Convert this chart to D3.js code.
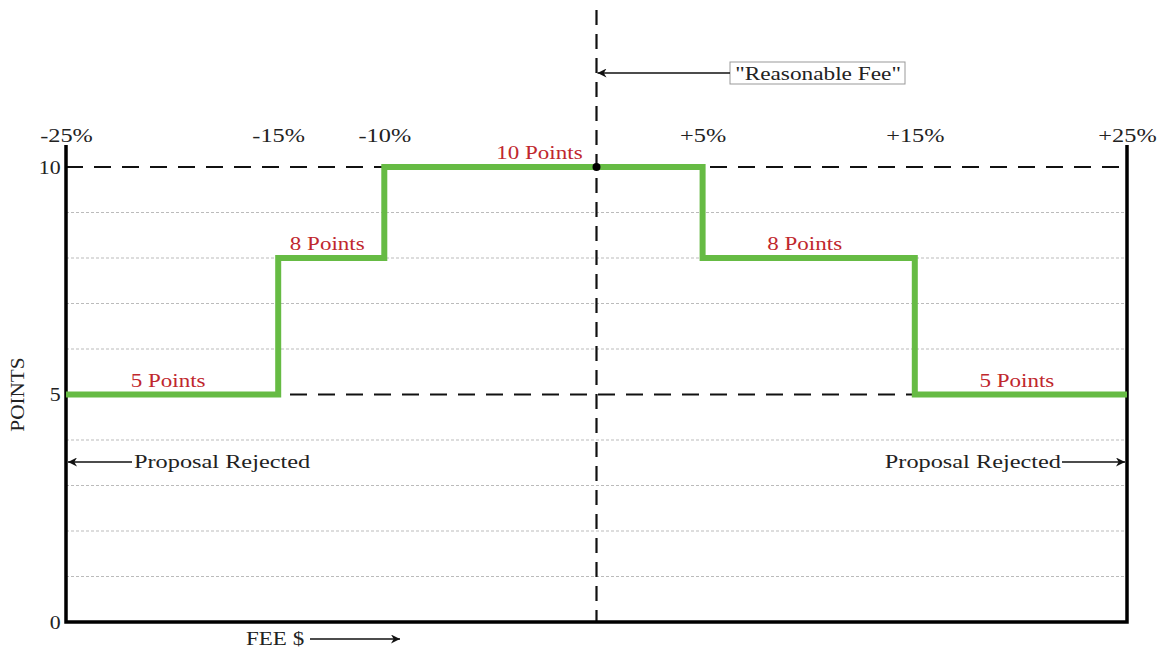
<!DOCTYPE html>
<html>
<head>
<meta charset="utf-8">
<script src="https://cdn.jsdelivr.net/npm/d3@7"></script>
<style>
  body { margin: 0; background: #fff; }
  text { font-family: "Liberation Serif", "DejaVu Serif", serif; }
</style>
</head>
<body>
<div id="vis"></div>
<script>
const FRAME_WIDTH = 1158;
const FRAME_HEIGHT = 649;
const MARGINS = {left: 66, right: 31, top: 167, bottom: 27};
const STRETCH = 1.28; // source text looks horizontally stretched

// fee steps (% from reasonable fee) and points awarded in each step
const FEE_BREAKS = [-25, -15, -10, 5, 15, 25];
const POINTS = [5, 8, 10, 8, 5];
const SEGMENT_LABELS = ["5 Points", "8 Points", "10 Points", "8 Points", "5 Points"];
const TOP_TICKS = [-25, -15, -10, 5, 15, 25];
const TOP_TICK_LABELS = ["-25%", "-15%", "-10%", "+5%", "+15%", "+25%"];
const Y_TICKS = [0, 5, 10];
const GRID_MINOR = [1, 2, 3, 4, 6, 7, 8, 9];
const GRID_MAJOR = [5, 10];

const X_SCALE = d3.scaleLinear().domain([-25, 25]).range([MARGINS.left, FRAME_WIDTH - MARGINS.right]);
const Y_SCALE = d3.scaleLinear().domain([0, 10]).range([FRAME_HEIGHT - MARGINS.bottom, MARGINS.top]);

const FRAME = d3.select('#vis')
  .append('svg')
    .attr('width', FRAME_WIDTH)
    .attr('height', FRAME_HEIGHT);

const defs = FRAME.append('defs');
defs.append('marker')
    .attr('id', 'arrow')
    .attr('viewBox', '0 0 10 10')
    .attr('refX', 10).attr('refY', 5)
    .attr('markerWidth', 13).attr('markerHeight', 9)
    .attr('markerUnits', 'userSpaceOnUse')
    .attr('orient', 'auto')
  .append('path')
    .attr('d', 'M0,0 L10,5 L0,10 L3,5 Z')
    .attr('fill', '#111');

// stretched text helper
function label(x, y, str, anchor, color, size) {
  return FRAME.append('text')
    .attr('transform', `translate(${x},${y}) scale(${STRETCH},1)`)
    .attr('text-anchor', anchor || 'start')
    .attr('font-size', (size || 19) + 'px')
    .attr('fill', color || '#222')
    .text(str);
}

const x0 = X_SCALE(-25), x1 = X_SCALE(25);

// minor grid
FRAME.selectAll('.minor')
  .data(GRID_MINOR)
  .enter()
  .append('line')
    .attr('x1', x0).attr('x2', x1)
    .attr('y1', d => Y_SCALE(d)).attr('y2', d => Y_SCALE(d))
    .attr('stroke', '#bbb')
    .attr('stroke-width', 1)
    .attr('stroke-dasharray', '3,2');

// major dashed lines at 5 and 10
FRAME.selectAll('.major')
  .data(GRID_MAJOR)
  .enter()
  .append('line')
    .attr('x1', x0).attr('x2', x1)
    .attr('y1', d => Y_SCALE(d)).attr('y2', d => Y_SCALE(d))
    .attr('stroke', '#111')
    .attr('stroke-width', 2.2)
    .attr('stroke-dasharray', '17,11');

// vertical "reasonable fee" line
FRAME.append('line')
    .attr('x1', X_SCALE(0)).attr('x2', X_SCALE(0))
    .attr('y1', 10).attr('y2', Y_SCALE(0))
    .attr('stroke', '#111')
    .attr('stroke-width', 2.2)
    .attr('stroke-dasharray', '15,9');

// frame: left, right, bottom
FRAME.append('path')
    .attr('d', `M${x0},145 L${x0},${Y_SCALE(0)} L${x1},${Y_SCALE(0)} L${x1},145`)
    .attr('fill', 'none')
    .attr('stroke', '#000')
    .attr('stroke-width', 3.5);

// step line
const stepData = POINTS.map((p, i) => ({x: FEE_BREAKS[i], y: p}));
stepData.push({x: FEE_BREAKS[FEE_BREAKS.length - 1], y: POINTS[POINTS.length - 1]});
FRAME.append('path')
    .datum(stepData)
    .attr('d', d3.line().x(d => X_SCALE(d.x)).y(d => Y_SCALE(d.y)).curve(d3.curveStepAfter))
    .attr('fill', 'none')
    .attr('stroke', '#66bb44')
    .attr('stroke-width', 6);

// segment labels
POINTS.forEach((p, i) => {
  label(X_SCALE((FEE_BREAKS[i] + FEE_BREAKS[i + 1]) / 2) - 4, Y_SCALE(p) - 8,
        SEGMENT_LABELS[i], 'middle', '#c0272d', 18);
});

// dot at reasonable fee
FRAME.append('circle')
    .attr('cx', X_SCALE(0)).attr('cy', Y_SCALE(10))
    .attr('r', 4)
    .attr('fill', '#000');

// top percent axis
FRAME.append('g')
    .attr('transform', 'translate(0,' + 142 + ')')
    .call(d3.axisTop(X_SCALE).tickValues(TOP_TICKS).tickSize(0).tickPadding(0)
      .tickFormat((d, i) => TOP_TICK_LABELS[i]))
    .call(g => g.select('.domain').remove())
    .selectAll('text')
      .attr('font-family', '"Liberation Serif", serif')
      .attr('font-size', '19px')
      .attr('fill', '#222')
      .attr('dy', '0')
      .attr('transform', `scale(${STRETCH},1)`);

// y axis ticks
FRAME.append('g')
    .attr('transform', 'translate(' + (x0 - 2) + ',0)')
    .call(d3.axisLeft(Y_SCALE).tickValues(Y_TICKS).tickSize(0).tickPadding(3))
    .call(g => g.select('.domain').remove())
    .selectAll('text')
      .attr('font-family', '"Liberation Serif", serif')
      .attr('font-size', '19px')
      .attr('fill', '#222')
      .attr('transform', 'scale(1.15,1)');

// y axis title
FRAME.append('text')
    .attr('transform', `translate(24,${Y_SCALE(5)}) rotate(-90) scale(1.18,1)`)
    .attr('text-anchor', 'middle')
    .attr('font-size', '18px')
    .attr('fill', '#222')
    .text('POINTS');

// reasonable fee annotation
FRAME.append('rect')
    .attr('x', 730).attr('y', 62)
    .attr('width', 175).attr('height', 22)
    .attr('fill', '#fff')
    .attr('stroke', '#999')
    .attr('stroke-width', 1);
label(818, 80, '"Reasonable Fee"', 'middle', '#222', 18.2);
FRAME.append('line')
    .attr('x1', 730).attr('x2', X_SCALE(0) + 1)
    .attr('y1', 73).attr('y2', 73)
    .attr('stroke', '#111').attr('stroke-width', 1.5)
    .attr('marker-end', 'url(#arrow)');

// proposal rejected, left and right
FRAME.append('line')
    .attr('x1', 132).attr('x2', x0 + 2)
    .attr('y1', 462).attr('y2', 462)
    .attr('stroke', '#111').attr('stroke-width', 1.5)
    .attr('marker-end', 'url(#arrow)');
label(134, 468, 'Proposal Rejected');
label(1061, 468, 'Proposal Rejected', 'end');
FRAME.append('line')
    .attr('x1', 1062).attr('x2', x1 - 2)
    .attr('y1', 462).attr('y2', 462)
    .attr('stroke', '#111').attr('stroke-width', 1.5)
    .attr('marker-end', 'url(#arrow)');

// fee $ label
label(246, 645, 'FEE $', 'start', '#222', 18);
FRAME.append('line')
    .attr('x1', 310).attr('x2', 400)
    .attr('y1', 639).attr('y2', 639)
    .attr('stroke', '#111').attr('stroke-width', 1.5)
    .attr('marker-end', 'url(#arrow)');
</script>
</body>
</html>
